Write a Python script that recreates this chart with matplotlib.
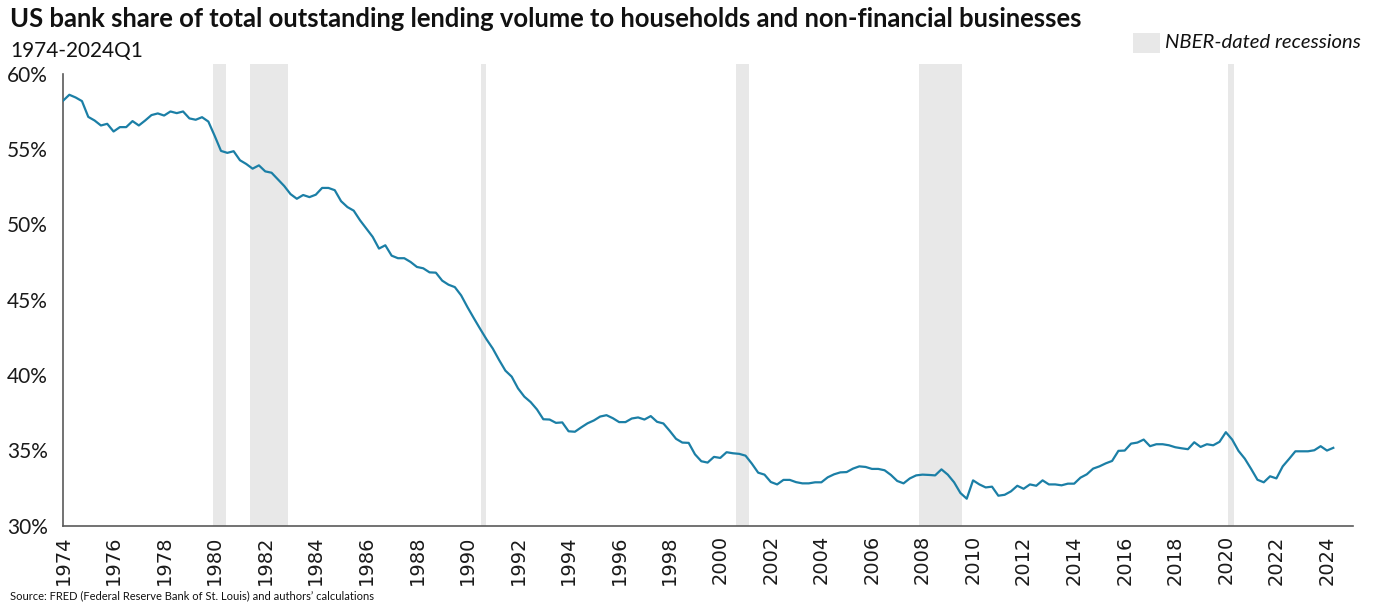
import matplotlib
matplotlib.use("Agg")
import matplotlib.pyplot as plt
from matplotlib.patches import Rectangle
import numpy as np

# ---------------- data ----------------
start_year = 1974
share = [
    58.22, 58.62, 58.44, 58.20,  # 1974
    57.15, 56.91, 56.58, 56.69,  # 1975
    56.18, 56.47, 56.47, 56.87,  # 1976
    56.58, 56.91, 57.27, 57.38,  # 1977
    57.24, 57.51, 57.40, 57.51,  # 1978
    57.05, 56.96, 57.13, 56.84,  # 1979
    55.89, 54.89, 54.76, 54.87,  # 1980
    54.27, 54.02, 53.71, 53.93,  # 1981
    53.53, 53.44, 53.00, 52.56,  # 1982
    52.02, 51.71, 51.96, 51.82,  # 1983
    51.98, 52.43, 52.43, 52.28,  # 1984
    51.55, 51.16, 50.92, 50.28,  # 1985
    49.73, 49.18, 48.40, 48.62,  # 1986
    47.93, 47.76, 47.76, 47.51,  # 1987
    47.18, 47.09, 46.82, 46.80,  # 1988
    46.27, 46.00, 45.84, 45.29,  # 1989
    44.51, 43.78, 43.07, 42.38,  # 1990
    41.76, 41.00, 40.29, 39.89,  # 1991
    39.11, 38.56, 38.20, 37.71,  # 1992
    37.06, 37.04, 36.82, 36.85,  # 1993
    36.26, 36.23, 36.52, 36.79,  # 1994
    36.98, 37.24, 37.33, 37.13,  # 1995
    36.87, 36.87, 37.11, 37.18,  # 1996
    37.04, 37.27, 36.89, 36.78,  # 1997
    36.29, 35.76, 35.51, 35.49,  # 1998
    34.73, 34.27, 34.18, 34.56,  # 1999
    34.49, 34.87, 34.80, 34.76,  # 2000
    34.64, 34.11, 33.51, 33.38,  # 2001
    32.89, 32.73, 33.03, 33.03,  # 2002
    32.88, 32.80, 32.80, 32.87,  # 2003
    32.87, 33.20, 33.40, 33.53,  # 2004
    33.55, 33.78, 33.93, 33.89,  # 2005
    33.76, 33.76, 33.67, 33.36,  # 2006
    32.96, 32.80, 33.13, 33.33,  # 2007
    33.38, 33.36, 33.33, 33.73,  # 2008
    33.38, 32.87, 32.16, 31.78,  # 2009
    33.00, 32.73, 32.53, 32.58,  # 2010
    31.98, 32.04, 32.27, 32.64,  # 2011
    32.44, 32.73, 32.64, 33.00,  # 2012
    32.73, 32.73, 32.67, 32.78,  # 2013
    32.78, 33.18, 33.40, 33.78,  # 2014
    33.93, 34.13, 34.29, 34.96,  # 2015
    34.98, 35.44, 35.51, 35.71,  # 2016
    35.27, 35.40, 35.40, 35.33,  # 2017
    35.20, 35.13, 35.07, 35.53,  # 2018
    35.22, 35.40, 35.33, 35.56,  # 2019
    36.20, 35.71, 34.96, 34.44,  # 2020
    33.76, 33.04, 32.87, 33.27,  # 2021
    33.13, 33.93, 34.42, 34.93,  # 2022
    34.93, 34.93, 35.00, 35.27,  # 2023
    34.98, 35.16,                # 2024
]
recession_start = [1979.93, 1981.40, 1990.52, 2000.62, 2007.87, 2020.10]
recession_end = [1980.45, 1982.90, 1990.73, 2001.15, 2009.56, 2020.32]
x_tick_years = list(range(1974, 2025, 2))
y_tick_values = [30, 35, 40, 45, 50, 55, 60]

title = "US bank share of total outstanding lending volume to households and non-financial businesses"
subtitle = "1974-2024Q1"
legend_label = "NBER-dated recessions"
source = "Source: FRED (Federal Reserve Bank of St. Louis) and authors\u2019 calculations"

# ---------------- figure ----------------
W, H, DPI = 1378, 605, 100
fig = plt.figure(figsize=(W / DPI, H / DPI), dpi=DPI)
fig.patch.set_facecolor("white")

ax_left, ax_right = 63, 1353
ax_top, ax_bottom = 74, 525.5
ax = fig.add_axes([ax_left / W, 1 - ax_bottom / H, (ax_right - ax_left) / W, (ax_bottom - ax_top) / H])

LINE_COLOR = "#1b7fa6"
BAND_COLOR = "#e8e8e8"
SPINE_COLOR = "#5a5a5a"
FONT = "Lato"

years = start_year + np.arange(len(share)) / 4.0

band_top = (ax_bottom - 64) / (ax_bottom - ax_top)
for s, e in zip(recession_start, recession_end):
    ax.axvspan(s, e, ymin=0, ymax=band_top, color=BAND_COLOR, lw=0, zorder=0, clip_on=False)

ax.plot(years, share, color=LINE_COLOR, lw=1.6, zorder=3, solid_joinstyle="round")

ax.set_xlim(1974, 2025.03)
ax.set_ylim(30, 60)

ax.set_xticks(x_tick_years)
ax.set_xticklabels([str(y) for y in x_tick_years], rotation=90, fontsize=14,
                   family="DejaVu Sans", color="#1a1a1a")
ax.set_yticks(y_tick_values)
ax.set_yticklabels([f"{v}%" for v in y_tick_values], fontsize=15, family=FONT, color="#1a1a1a")
ax.tick_params(axis="x", length=0, pad=7)
ax.tick_params(axis="y", length=0, pad=11)

for side in ["top", "right"]:
    ax.spines[side].set_visible(False)
for side in ["left", "bottom"]:
    ax.spines[side].set_color(SPINE_COLOR)
    ax.spines[side].set_linewidth(1.2)
ax.set_facecolor("none")

# ---------------- texts ----------------
renderer = fig.canvas.get_renderer()


def fit_width(t, target_px):
    bb = t.get_window_extent(renderer=renderer)
    t.set_fontsize(t.get_fontsize() * target_px / bb.width)


t_title = fig.text(10 / W, 1 - 27 / H, title, fontsize=18, fontweight="bold",
                   family=FONT, color="#111111", va="baseline", ha="left")
fit_width(t_title, 1075)

t_sub = fig.text(10 / W, 1 - 57 / H, subtitle, fontsize=15, family=FONT,
                 color="#111111", va="baseline", ha="left")
fit_width(t_sub, 133)

t_leg = fig.text(1165 / W, 1 - 48 / H, legend_label, fontsize=13, family=FONT,
                 style="italic", color="#111111", va="baseline", ha="left")
fit_width(t_leg, 195)
fig.patches.append(Rectangle((1133 / W, 1 - 52.5 / H), 27 / W, 20 / H,
                             transform=fig.transFigure, facecolor=BAND_COLOR,
                             edgecolor="none"))

t_src = fig.text(10 / W, 1 - 599 / H, source, fontsize=8, family=FONT,
                 color="#111111", va="baseline", ha="left")
fit_width(t_src, 365)

fig.savefig("out.png", dpi=DPI, facecolor="white")
